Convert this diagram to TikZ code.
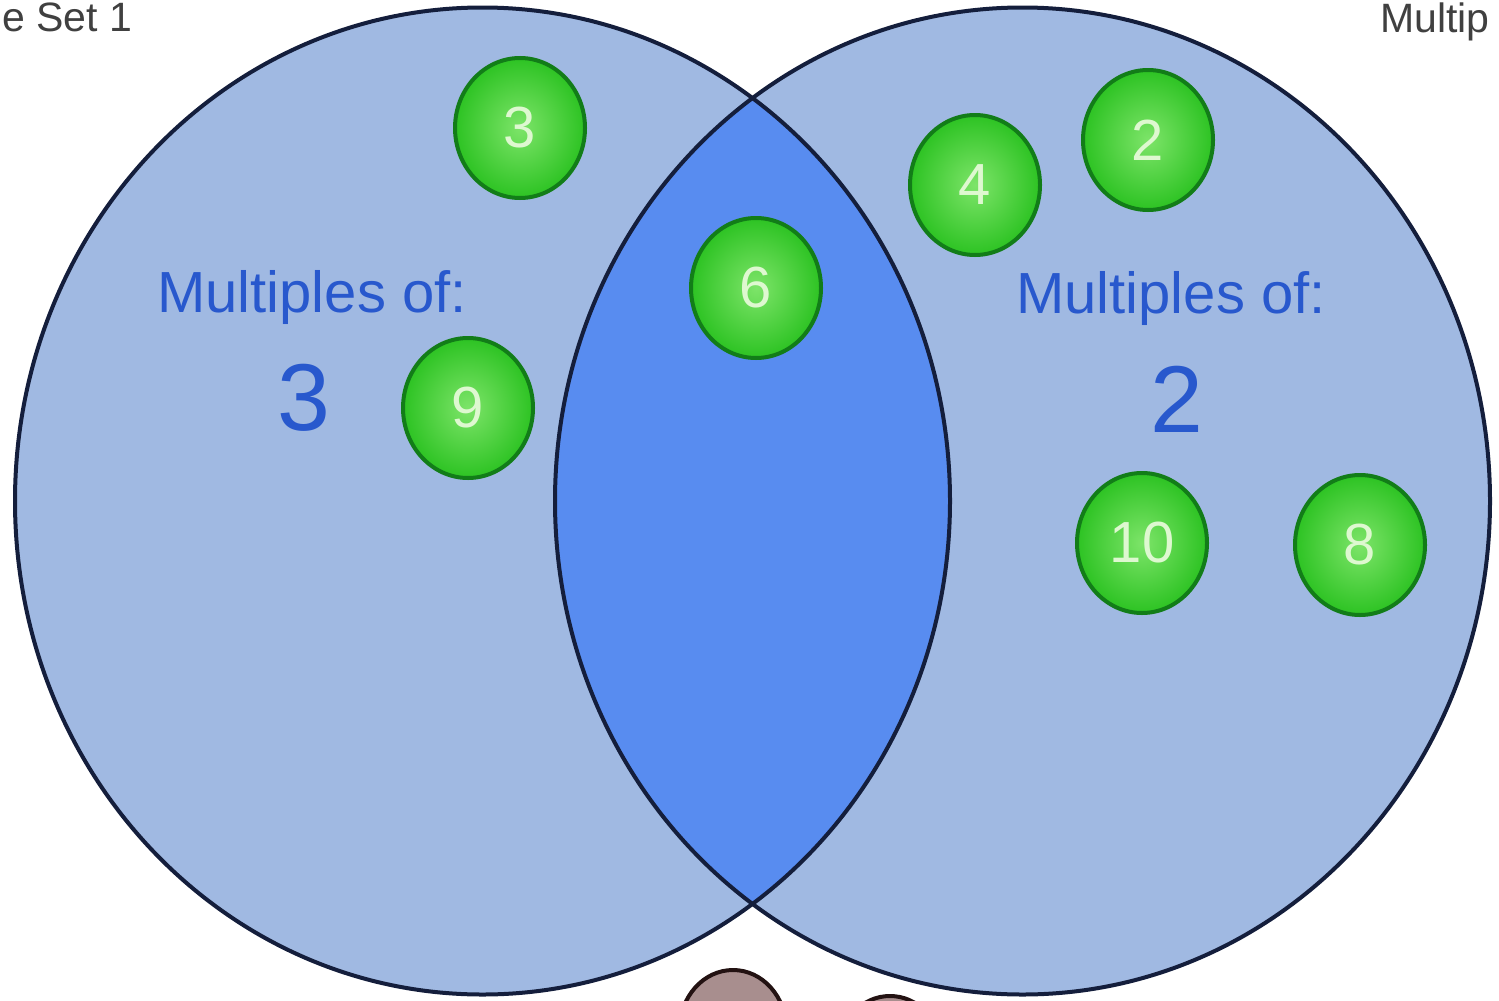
\documentclass[tikz,border=0pt]{standalone}
\usepackage{fontspec}
\setmainfont{Liberation Sans}
\usetikzlibrary{shapes.geometric}

\definecolor{setblue}{RGB}{160,185,226}
\definecolor{lensblue}{RGB}{88,140,240}
\definecolor{rimnavy}{RGB}{20,30,60}
\definecolor{labelblue}{RGB}{40,88,205}
\definecolor{ballrim}{RGB}{18,125,24}
\definecolor{ballin}{RGB}{125,228,105}
\definecolor{ballout}{RGB}{45,195,35}
\definecolor{balltext}{RGB}{222,248,208}
\definecolor{stonefill}{RGB}{168,142,142}
\definecolor{stonerim}{RGB}{35,18,18}

\begin{document}
\begin{tikzpicture}[
    x=1pt, y=-1pt,
    setrim/.style={draw=rimnavy, line width=4pt},
    ball/.style={ellipse, draw=ballrim, line width=4pt,
                 inner color=ballin, outer color=ballout,
                 minimum width=130pt, minimum height=140pt, inner sep=0pt,
                 text=balltext, font=\fontsize{58}{60}\selectfont},
    heading/.style={anchor=base, inner sep=0pt, text=labelblue,
                    font=\fontsize{58}{60}\selectfont},
    bignum/.style={anchor=base, inner sep=0pt, text=labelblue,
                   font=\fontsize{95}{100}\selectfont},
    caption/.style={inner sep=0pt, text=black!75,
                    font=\fontsize{41}{44}\selectfont},
    stone/.style={ellipse, draw=stonerim, fill=stonefill, line width=4pt}
]
  \useasboundingbox (0,0) rectangle (1499,1001);
  \clip (0,0) rectangle (1499,1001);
  \fill[white] (0,0) rectangle (1499,1001);

  % Set centres
  \coordinate (lc) at (482.5,501);
  \coordinate (rc) at (1022.5,501);

  % Cut-off pieces at the bottom edge
  \node[stone, minimum width=107pt, minimum height=120pt] (stoneA) at (733,1030) {};
  \node[stone, minimum width=100pt, minimum height=104pt] (stoneB) at (890,1048) {};

  % The two sets and their overlap
  \fill[setblue] (lc) ellipse [x radius=467.5pt, y radius=493.5pt];
  \fill[setblue] (rc) ellipse [x radius=467.5pt, y radius=493.5pt];
  \begin{scope}
    \clip (lc) ellipse [x radius=467.5pt, y radius=493.5pt];
    \fill[lensblue] (rc) ellipse [x radius=467.5pt, y radius=493.5pt];
  \end{scope}
  \draw[setrim] (lc) ellipse [x radius=467.5pt, y radius=493.5pt];
  \draw[setrim] (rc) ellipse [x radius=467.5pt, y radius=493.5pt];

  % Captions at the page edge
  \node[caption, anchor=base west] (capL) at (2,31) {e Set 1};
  \node[caption, anchor=base west] (capR) at (1380,32) {Multip};

  % Set labels
  \node[heading] (headL) at (312,312) {Multiples of:};
  \node[bignum]  (numL)  at (304,430) {3};
  \node[heading] (headR) at (1171,313) {Multiples of:};
  \node[bignum]  (numR)  at (1177,432) {2};

  % Members
  \node[ball] (b3)  at (520,128)  {3};
  \node[ball] (b9)  at (468,408)  {9};
  \node[ball] (b6)  at (756,288)  {6};
  \node[ball] (b4)  at (975,185)  {4};
  \node[ball] (b2)  at (1148,140) {2};
  \node[ball] (b10) at (1142,543) {10};
  \node[ball] (b8)  at (1360,545) {8};
\end{tikzpicture}
\end{document}
